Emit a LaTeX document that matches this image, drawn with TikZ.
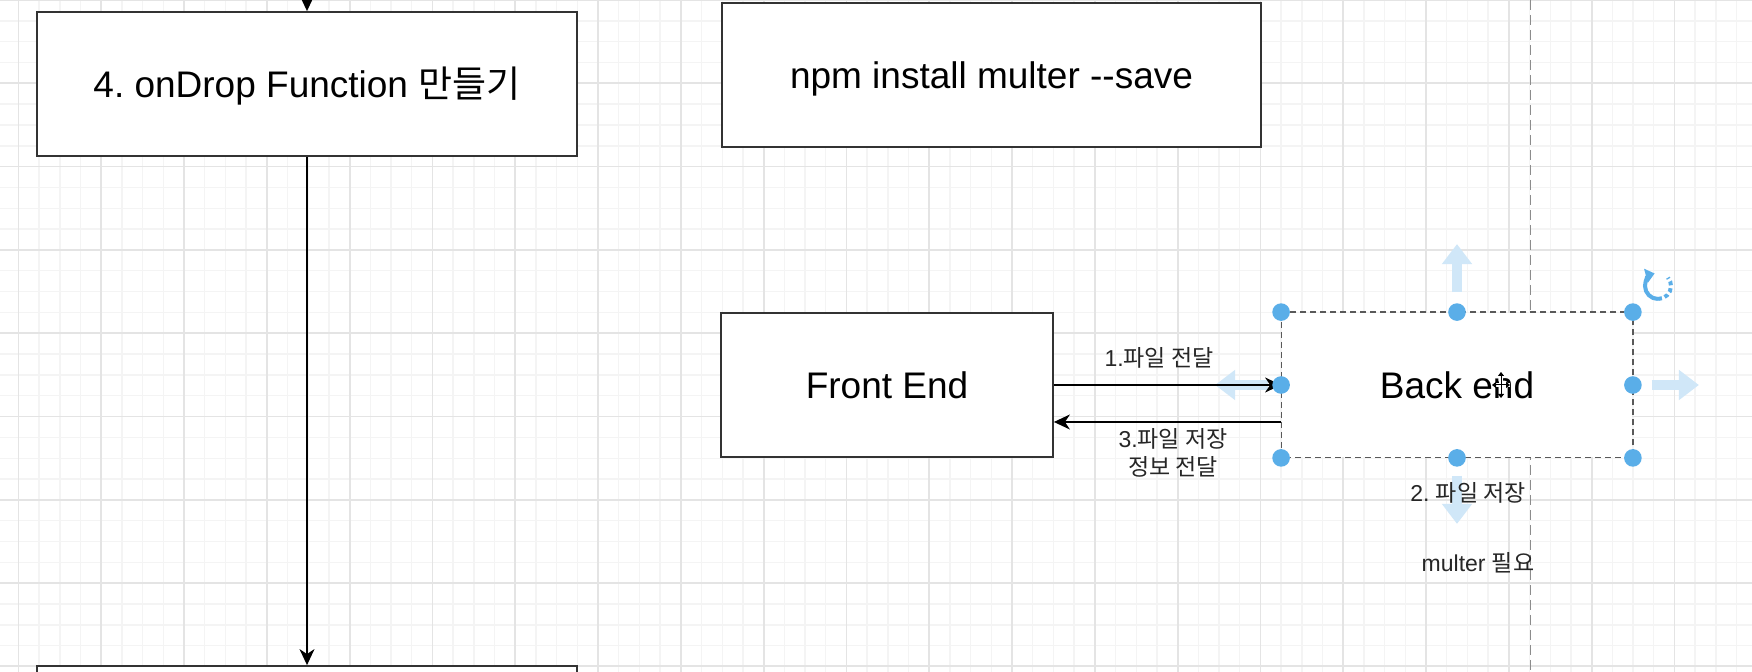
\documentclass[tikz,border=0pt]{standalone}
\usepackage{fontspec}
\setmainfont{Liberation Sans}
\newfontfamily\kr{Noto Sans CJK KR}
\usetikzlibrary{arrows.meta}
\definecolor{gridminor}{HTML}{F4F4F4}
\definecolor{gridmajor}{HTML}{E4E4E4}
\definecolor{handle}{HTML}{5AAEE8}
\definecolor{hover}{HTML}{D0E7F8}

\begin{document}
\frenchspacing
\begin{tikzpicture}[x=0.5pt,y=-0.5pt,
  box/.style={draw=black!80, line width=0.9pt, fill=white, minimum height=72pt,
    inner sep=0pt, text height=14pt, text depth=0.8pt,
    font=\fontsize{18.5}{22}\selectfont},
  lbl/.style={inner sep=0pt, align=center, text=black!85,
    font=\fontsize{11.5}{14}\selectfont},
  link/.style={line width=0.7pt, -{Stealth[length=8pt,width=7.5pt,inset=2.5pt]}},
  hoverarrow/.style={draw=hover, line width=5pt, -{Triangle[length=10pt,width=14.5pt]}},
  selection/.style={draw=black!65, line width=0.6pt, dash pattern=on 3pt off 2pt}]

  \useasboundingbox (0,0) rectangle (1752,672);
  \clip (0,0) rectangle (1752,672);
  \fill[white] (0,0) rectangle (1752,672);

  % grid
  \foreach \i in {0,...,85}
    \draw[gridminor, line width=0.7pt] ({-2.3+20.7*\i},0) -- ++(0,672);
  \foreach \j in {0,...,33}
    \draw[gridminor, line width=0.7pt] (0,{20.83*\j}) -- ++(1752,0);
  \foreach \i in {0,...,21}
    \draw[gridmajor, line width=0.9pt] ({18.4+82.8*\i},0) -- ++(0,672);
  \foreach \j in {0,...,8}
    \draw[gridmajor, line width=0.9pt] (0,{83.3*\j}) -- ++(1752,0);

  % guide
  \draw[black!45, line width=0.5pt, dash pattern=on 5pt off 2.5pt] (1530,0) -- (1530,672);

  \node[box, minimum width=270pt] (ondrop) at (307,84) {4. onDrop Function {\kr 만들기}};
  \node[box, minimum width=269.5pt] (npm) at (991.5,75) {npm install multer {-}{-}save};
  \node[box, minimum width=270pt] (nextstep) at (307,738) {};
  \node[box, minimum width=166pt] (front) at (887,385) {Front End};
  \node[box, draw=none, minimum width=175pt] (back) at (1457,385) {Back end};
  \draw[selection] (back.north west) rectangle (back.south east);

  % hover arrows round the selection
  \draw[hoverarrow] ([yshift=10pt]back.north) -- ([yshift=34pt]back.north);
  \draw[hoverarrow] ([xshift=9.5pt]back.east) -- ([xshift=33pt]back.east);
  \draw[hoverarrow] ([xshift=-6.5pt]back.west) -- ([xshift=-33pt]back.west);
  \draw[hoverarrow] ([yshift=-9pt]back.south) -- ([yshift=-33pt]back.south);

  \coordinate (entry) at (307,0);
  \draw[link] (entry) -- (ondrop);
  \draw[link] (ondrop) -- (nextstep);
  \draw[link] (front.east) -- (back.west);
  \draw[link] ([yshift=-18.5pt]back.west) -- ([yshift=-18.5pt]front.east);

  \node[lbl] (send) at (1159,358) {1.{\kr 파일 전달}};
  \node[lbl] (reply) at (1173,453) {3.{\kr 파일 저장}\\{\kr 정보 전달}};
  \node[lbl] (save) at (1468,493) {2. {\kr 파일 저장}};
  \node[lbl] (need) at (1478,563) {multer {\kr 필요}};

  % handles
  \foreach \a in {north west,north,north east,west,east,south west,south,south east}
    \fill[handle] (back.\a) circle (4.4pt);

  % rotate icon
  \draw[handle, line width=2pt, -{Triangle[length=4.5pt,width=7pt]}]
    (1658,286) ++(270:6.5pt) arc[start angle=270, end angle=105, radius=6.5pt];
  \draw[handle, line width=2pt, dash pattern=on 2pt off 1.5pt]
    (1658,286) ++(270:6.5pt) arc[start angle=270, end angle=400, radius=6.5pt];

  % cursor
  \draw[white, line width=2pt] (1501,372) -- (1501,398) (1492,385) -- (1510,385);
  \draw[black, line width=0.5pt, {Triangle[length=2pt,width=3pt]}-{Triangle[length=2pt,width=3pt]}]
    (1501,372) -- (1501,398);
  \draw[black, line width=0.5pt, {Triangle[length=2pt,width=3pt]}-{Triangle[length=2pt,width=3pt]}]
    (1492,385) -- (1510,385);

\end{tikzpicture}
\end{document}
